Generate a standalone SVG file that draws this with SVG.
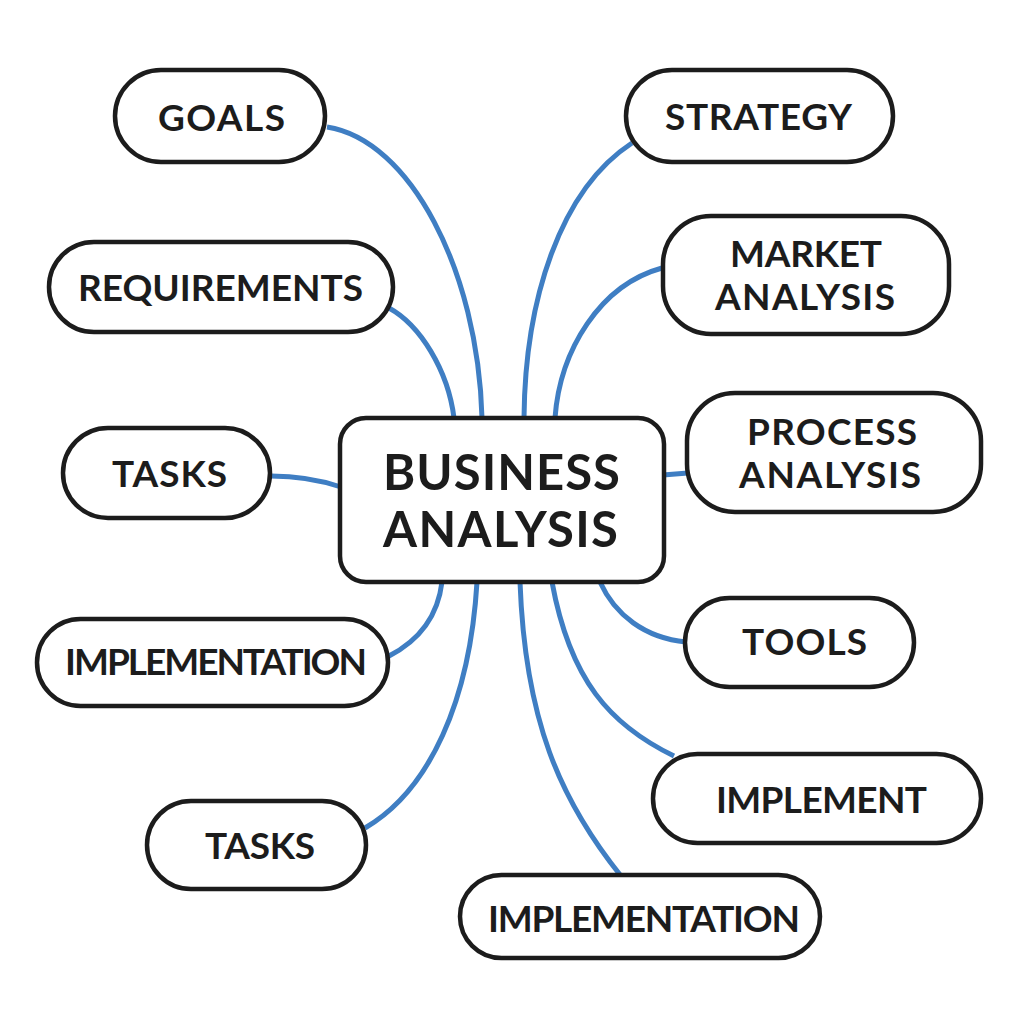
<svg xmlns="http://www.w3.org/2000/svg" width="1024" height="1024" viewBox="0 0 1024 1024">
<style>
.bg{fill:#ffffff}
.node rect{fill:#ffffff;stroke:#1c1c1c;stroke-width:4.5}
.node text{font-family:Lato,"Liberation Sans",sans-serif;font-weight:700;fill:#1c1c1c;text-anchor:middle;font-size:37px}
#center text{font-size:49px}
.conn path{fill:none;stroke:#3f7ec3;stroke-width:5;stroke-linecap:butt}
</style>
<rect class="bg" x="0" y="0" width="1024" height="1024"/>
<g class="conn" id="connectors">
<path d="M327,127 C410,140 478,270 482,418"/>
<path d="M389,308 C420,325 448,370 454,418"/>
<path d="M632,143 C560,190 525,300 524,418"/>
<path d="M662,268 C600,285 560,350 555,418"/>
<path d="M663,475 L688,473"/>
<path d="M271,476 C300,476 320,480 341,487"/>
<path d="M442,582 C438,615 420,640 389,656"/>
<path d="M477,582 C470,700 430,790 365,828"/>
<path d="M520,582 C525,720 560,800 621,876"/>
<path d="M552,582 C570,680 610,725 674,756"/>
<path d="M600,582 C615,615 645,638 686,642"/>
</g>
<g class="node" id="center">
<rect x="340" y="418" width="324" height="164" rx="26"/>
<text x="501.5" y="490" textLength="237">BUSINESS</text>
<text x="500.5" y="547" textLength="235">ANALYSIS</text>
</g>
<g class="node" id="goals">
<rect x="115" y="70" width="210" height="92" rx="46"/>
<text x="221.5" y="131" textLength="127">GOALS</text>
</g>
<g class="node" id="requirements">
<rect x="49" y="242" width="344" height="90" rx="45"/>
<text x="220.5" y="301" textLength="285">REQUIREMENTS</text>
</g>
<g class="node" id="tasks1">
<rect x="63" y="428" width="207" height="90" rx="45"/>
<text x="169.5" y="487" textLength="115">TASKS</text>
</g>
<g class="node" id="implementation1">
<rect x="37" y="619" width="351" height="87" rx="43.5"/>
<text x="216" y="675" textLength="302">IMPLEMENTATION</text>
</g>
<g class="node" id="tasks2">
<rect x="147" y="801" width="219" height="88" rx="44"/>
<text x="260" y="859" textLength="110">TASKS</text>
</g>
<g class="node" id="strategy">
<rect x="626" y="70" width="267" height="92" rx="46"/>
<text x="758.5" y="130" textLength="187">STRATEGY</text>
</g>
<g class="node" id="market">
<rect x="663" y="216" width="286" height="118" rx="48"/>
<text x="806" y="267" textLength="152">MARKET</text>
<text x="805" y="310" textLength="180">ANALYSIS</text>
</g>
<g class="node" id="process">
<rect x="687" y="393" width="294" height="119" rx="48"/>
<text x="832" y="445" textLength="170">PROCESS</text>
<text x="830" y="488" textLength="182">ANALYSIS</text>
</g>
<g class="node" id="tools">
<rect x="685" y="598" width="229" height="89" rx="44.5"/>
<text x="804.5" y="655" textLength="125">TOOLS</text>
</g>
<g class="node" id="implement">
<rect x="653" y="754" width="328" height="89" rx="44.5"/>
<text x="821.5" y="813" textLength="211">IMPLEMENT</text>
</g>
<g class="node" id="implementation2">
<rect x="460" y="875" width="360" height="83" rx="41.5"/>
<text x="644" y="932" textLength="312">IMPLEMENTATION</text>
</g>
</svg>
